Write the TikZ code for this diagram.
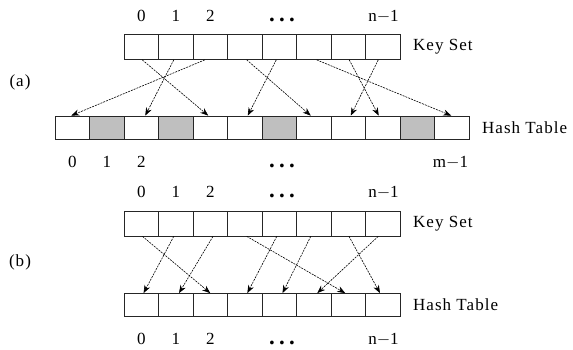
\documentclass[tikz,border=0pt]{standalone}
\usepackage{fontspec}
\setmainfont{Liberation Serif}
\newfontfamily\lblfont[LetterSpace=6]{Liberation Serif}
\newfontfamily\dotfont[LetterSpace=18]{Liberation Serif}
\usetikzlibrary{arrows.meta}

\tikzset{
  cell/.style={draw=black!85, line width=0.75pt, inner sep=0pt, minimum width=34.5pt},
  keycell/.style={cell, fill=white, minimum height=25pt},
  hashcell/.style={cell, fill=white, minimum height=23pt},
  used/.style={fill=black!25},
  lbl/.style={inner sep=0pt, font=\lblfont\fontsize{17}{17}\selectfont},
  idx/.style={lbl, anchor=base},
  dots/.style={inner sep=0pt, anchor=base, font=\dotfont\bfseries\fontsize{23}{23}\selectfont},
  map/.style={draw=black, line width=0.6pt, dash pattern=on 2pt off 1pt,
              -{Stealth[length=8pt, width=6pt]}}
}

\begin{document}
\begin{tikzpicture}[x=1pt, y=-1pt]
\useasboundingbox (0,0) rectangle (573,349);

% ---------- (a): n keys into a table of m slots ----------
\foreach \i in {0,...,7}
  \node[keycell] (ka\i) at ({124+34.5*(\i+0.5)}, 47) {};
\foreach \j in {0,...,11}
  \node[hashcell] (ha\j) at ({55+34.5*(\j+0.5)}, 127.5) {};
\foreach \j in {1,3,6,10}
  \node[hashcell, used] at (ha\j) {};

\node[idx] (ta0) at (141.25, 21.5) {0};
\node[idx] (ta1) at (175.75, 21.5) {1};
\node[idx] (ta2) at (210.25, 21.5) {2};
\node[dots] (tad) at (282, 21.5) {...};
\node[idx] (tan) at (383.5, 21.5) {n$-$1};

\node[idx] (ba0) at (72.25, 167) {0};
\node[idx] (ba1) at (106.75, 167) {1};
\node[idx] (ba2) at (141.25, 167) {2};
\node[dots] (bad) at (282, 167) {...};
\node[idx] (bam) at (450.5, 167) {m$-$1};

\node[lbl, anchor=west] (keya) at (413, 47) {Key Set};
\node[lbl, anchor=west] (hasha) at (482, 127.5) {Hash Table};
\node[lbl] (capa) at (20, 82) {(a)};

\draw[map] ([xshift=1pt]ka0.south)    -- ([xshift=-2pt]ha4.north);
\draw[map] ([xshift=-2pt]ka1.south)   -- ([xshift=4pt]ha2.north);
\draw[map] ([xshift=-5.5pt]ka2.south) -- ([xshift=-1pt]ha0.north);
\draw[map] ([xshift=2pt]ka3.south)    -- ([xshift=-3pt]ha7.north);
\draw[map] ([xshift=-3pt]ka4.south)   -- ([xshift=3pt]ha5.north);
\draw[map] ([xshift=3pt]ka5.south)    -- ([xshift=-0.5pt]ha11.north);
\draw[map] ([xshift=1pt]ka6.south)    -- ([xshift=-4pt]ha9.north);
\draw[map] ([xshift=-4.5pt]ka7.south) -- ([xshift=2.5pt]ha8.north);

% ---------- (b): n keys into a table of n slots ----------
\foreach \i in {0,...,7} {
  \node[keycell] (kb\i) at ({124+34.5*(\i+0.5)}, 223.5) {};
  \node[hashcell] (hb\i) at ({124+34.5*(\i+0.5)}, 305) {};
}

\node[idx] (tb0) at (141.25, 197) {0};
\node[idx] (tb1) at (175.75, 197) {1};
\node[idx] (tb2) at (210.25, 197) {2};
\node[dots] (tbd) at (282, 197) {...};
\node[idx] (tbn) at (383.5, 197) {n$-$1};

\node[idx] (bb0) at (141.25, 344) {0};
\node[idx] (bb1) at (175.75, 344) {1};
\node[idx] (bb2) at (210.25, 344) {2};
\node[dots] (bbd) at (282, 344) {...};
\node[idx] (bbn) at (383.5, 344) {n$-$1};

\node[lbl, anchor=west] (keyb) at (413, 223.5) {Key Set};
\node[lbl, anchor=west] (hashb) at (413, 305) {Hash Table};
\node[lbl] (capb) at (20, 262) {(b)};

\draw[map] ([xshift=1.25pt]kb0.south) -- (hb2.north);
\draw[map] ([xshift=-2pt]kb1.south)   -- ([xshift=2.3pt]hb0.north);
\draw[map] ([xshift=2.75pt]kb2.south) -- ([xshift=3.25pt]hb1.north);
\draw[map] ([xshift=2pt]kb3.south)    -- ([xshift=-3pt]hb6.north);
\draw[map] ([xshift=-2.5pt]kb4.south) -- ([xshift=2.6pt]hb3.north);
\draw[map] ([xshift=-3pt]kb5.south)   -- ([xshift=3.25pt]hb4.north);
\draw[map] ([xshift=0.75pt]kb6.south) -- ([xshift=-2.75pt]hb7.north);
\draw[map] ([xshift=-4.5pt]kb7.south) -- ([xshift=3.5pt]hb5.north);
\end{tikzpicture}
\end{document}
